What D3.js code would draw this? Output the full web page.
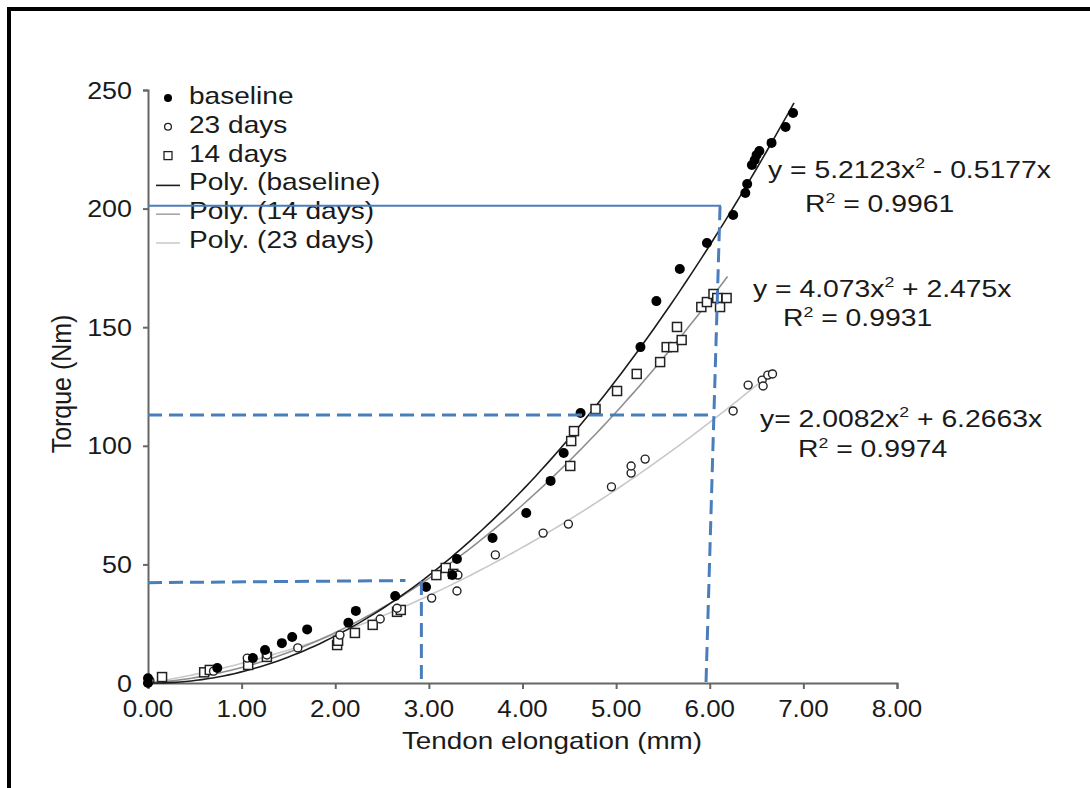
<!DOCTYPE html>
<html>
<head>
<meta charset="utf-8">
<script src="https://cdn.jsdelivr.net/npm/d3@7"></script>
<style>
  html, body { margin: 0; padding: 0; background: #fff; }
  svg { display: block; }
  text { font-family: "Liberation Sans", Arial, Helvetica, sans-serif; fill: #1a1a1a; }
</style>
</head>
<body>
<svg id="chart" width="1090" height="788"></svg>
<script>
// Torque vs. tendon elongation, three conditions with quadratic fits

// baseline (filled circles)
const baselineX = [0.00, 0.00, 0.74, 1.12, 1.25, 1.43, 1.54, 1.70, 2.14, 2.22, 2.64, 2.97, 3.25, 3.30,
  3.68, 4.04, 4.30, 4.44, 4.62, 5.26, 5.43, 5.68, 5.97, 6.25, 6.38, 6.40, 6.45, 6.48, 6.50, 6.53, 6.66, 6.81, 6.89];
const baselineY = [2.0, 0.0, 6.3, 10.5, 13.9, 16.8, 19.4, 22.6, 25.4, 30.4, 36.7, 40.5, 45.5, 52.3,
  61.1, 71.7, 85.2, 97.0, 113.8, 141.6, 161.0, 174.5, 185.5, 197.3, 206.6, 210.4, 218.4, 220.5, 222.6, 224.3, 227.7, 234.4, 240.3];

// 23 days (open circles)
const days23X = [0.02, 0.70, 1.06, 1.27, 1.60, 2.05, 2.48, 2.66, 3.03, 3.30, 3.31, 3.71, 4.22, 4.49,
  4.95, 5.16, 5.16, 5.31, 6.25, 6.41, 6.56, 6.57, 6.62, 6.67];
const days23Y = [1.0, 5.0, 10.5, 11.8, 14.8, 20.2, 27.0, 31.5, 35.8, 38.8, 45.5, 54.0, 63.2, 67.0,
  82.7, 88.5, 91.5, 94.4, 114.7, 125.6, 127.7, 125.2, 129.8, 130.3];

// 14 days (open squares)
const days14X = [0.15, 0.60, 0.66, 1.07, 1.27, 2.02, 2.03, 2.21, 2.40, 2.66, 2.70, 3.08, 3.18, 3.26,
  4.51, 4.52, 4.55, 4.78, 5.01, 5.22, 5.47, 5.54, 5.61, 5.70, 5.65, 5.91, 5.97, 6.04, 6.08, 6.11, 6.18];
const days14Y = [2.5, 4.5, 5.5, 7.6, 11.0, 16.0, 17.8, 21.1, 24.5, 30.0, 30.8, 45.5, 48.5, 46.0,
  91.5, 102.0, 106.2, 115.5, 123.1, 130.3, 135.3, 141.6, 141.6, 144.6, 150.1, 158.5, 160.6, 164.0, 162.3, 158.5, 162.3];

// Quadratic fits y = a x^2 + b x, and the x range each is drawn over
const fitBaseline = { a: 5.2123, b: -0.5177, xMax: 6.90 };
const fit14 = { a: 4.073, b: 2.475, xMax: 6.19 };
const fit23 = { a: 2.0082, b: 6.2663, xMax: 6.68 };

const xTicks = [0, 1, 2, 3, 4, 5, 6, 7, 8];
const yTicks = [0, 50, 100, 150, 200, 250];

const legendLabels = ["baseline", "23 days", "14 days", "Poly. (baseline)", "Poly. (14 days)", "Poly. (23 days)"];

// Reference guide lines (data units: [elongation, torque])
const guideSolid = [[0, 201.2], [6.12, 201.2]];
const guideDashed = [
  [[6.11, 201.0], [5.96, 0]],
  [[0, 113.0], [6.04, 113.0]],
  [[0, 42.3], [2.75, 43.2]],
  [[2.92, 43.0], [2.92, 0]]
];

const svg = d3.select("#chart");
const W = 1090, H = 788;
const SX = 1.14;   // horizontal stretch of the typeface

svg.append("rect").attr("width", W).attr("height", H).attr("fill", "#fff");
// outer frame (runs off the right and bottom edges)
svg.append("rect").attr("x", 9).attr("y", 9).attr("width", W).attr("height", H)
  .attr("fill", "none").attr("stroke", "#000").attr("stroke-width", 4);

const x = d3.scaleLinear().domain([0, 8]).range([148, 897]);
const y = d3.scaleLinear().domain([0, 250]).range([683, 90]);

function label(g, px, py, str, anchor, size, sx) {
  const t = g.append("text")
    .attr("transform", `translate(${px},${py}) scale(${sx || SX},1)`)
    .attr("text-anchor", anchor || "start")
    .attr("font-size", size || 24);
  t.text(str);
  return t;
}

// axes
const axisColor = "#666";
const xAxis = svg.append("g").attr("transform", `translate(0,${y(0)})`)
  .call(d3.axisBottom(x).tickValues(xTicks).tickSize(6).tickFormat(""));
const yAxis = svg.append("g").attr("transform", `translate(${x(0)},0)`)
  .call(d3.axisLeft(y).tickValues(yTicks).tickSize(5).tickFormat(""));
[xAxis, yAxis].forEach(g => {
  g.select(".domain").attr("stroke", axisColor).attr("stroke-width", 2);
  g.selectAll(".tick line").attr("stroke", axisColor).attr("stroke-width", 2);
});

const tickLabels = svg.append("g");
xTicks.forEach(v => label(tickLabels, x(v), 717, d3.format(".2f")(v), "middle", 24, 1.08));
yTicks.forEach(v => label(tickLabels, 132, y(v) + 8.5, d3.format("d")(v), "end", 24, 1.12));

label(svg, 552, 749, "Tendon elongation (mm)", "middle", 24, 1.16);
svg.append("text")
  .attr("transform", `translate(71,384) rotate(-90) scale(1.04,${SX})`)
  .attr("text-anchor", "middle").attr("font-size", 24)
  .text("Torque (Nm)");

// fitted curves
const plot = svg.append("g");
const curve = d3.line().x(d => x(d[0])).y(d => y(d[1]));
function fitPoints(f) {
  return d3.range(0, f.xMax + 1e-9, f.xMax / 120).map(t => [t, f.a * t * t + f.b * t]);
}
plot.append("path").datum(fitPoints(fit23)).attr("d", curve)
  .attr("fill", "none").attr("stroke", "#c8c8c8").attr("stroke-width", 1.6);
plot.append("path").datum(fitPoints(fit14)).attr("d", curve)
  .attr("fill", "none").attr("stroke", "#8e8e8e").attr("stroke-width", 1.6);
plot.append("path").datum(fitPoints(fitBaseline)).attr("d", curve)
  .attr("fill", "none").attr("stroke", "#1c1c1c").attr("stroke-width", 1.6);

// markers
const zip = (xs, ys) => xs.map((v, i) => [v, ys[i]]);
plot.selectAll(".sq").data(zip(days14X, days14Y)).join("rect")
  .attr("x", d => x(d[0]) - 4.5).attr("y", d => y(d[1]) - 4.5)
  .attr("width", 9).attr("height", 9)
  .attr("fill", "#fff").attr("stroke", "#222").attr("stroke-width", 1.5);
plot.selectAll(".oc").data(zip(days23X, days23Y)).join("circle")
  .attr("cx", d => x(d[0])).attr("cy", d => y(d[1])).attr("r", 4)
  .attr("fill", "#fff").attr("stroke", "#222").attr("stroke-width", 1.4);
plot.selectAll(".fc").data(zip(baselineX, baselineY)).join("circle")
  .attr("cx", d => x(d[0])).attr("cy", d => y(d[1])).attr("r", 5)
  .attr("fill", "#000");

// fit equations
const EQX = 1.18;
function equation(px, py, a, b, sign, pre) {
  const t = svg.append("text")
    .attr("transform", `translate(${px},${py}) scale(${EQX},1)`)
    .attr("font-size", 24);
  t.append("tspan").text(`${pre}${a}x`);
  t.append("tspan").attr("font-size", 15).attr("dy", -10).text("2");
  t.append("tspan").attr("dy", 10).text(` ${sign} ${b}x`);
}
function rSquared(px, py, r) {
  const t = svg.append("text")
    .attr("transform", `translate(${px},${py}) scale(${EQX},1)`)
    .attr("font-size", 24);
  t.append("tspan").text("R");
  t.append("tspan").attr("font-size", 15).attr("dy", -9).text("2");
  t.append("tspan").attr("dy", 9).text(` = ${r}`);
}
equation(768, 178, fitBaseline.a.toFixed(4), Math.abs(fitBaseline.b).toFixed(4), "-", "y = ");
rSquared(805, 212, "0.9961");
equation(753, 297, fit14.a.toFixed(3), fit14.b.toFixed(3), "+", "y = ");
rSquared(783, 326, "0.9931");
equation(760, 427, fit23.a.toFixed(4), fit23.b.toFixed(4), "+", "y= ");
rSquared(798, 457, "0.9974");

// legend
const leg = svg.append("g");
const legBase = 104, legStep = 28.8;
legendLabels.forEach((s, i) => label(leg, 189, legBase + i * legStep, s, "start", 24, 1.17));
leg.append("circle").attr("cx", 168).attr("cy", legBase - 6).attr("r", 4).attr("fill", "#000");
leg.append("circle").attr("cx", 168).attr("cy", legBase + legStep - 6).attr("r", 3.4)
  .attr("fill", "#fff").attr("stroke", "#222").attr("stroke-width", 1.3);
leg.append("rect").attr("x", 164).attr("y", legBase + 2 * legStep - 10).attr("width", 8).attr("height", 8)
  .attr("fill", "#fff").attr("stroke", "#222").attr("stroke-width", 1.3);
[["#1c1c1c", 3], ["#a6a6a6", 4], ["#cccccc", 5]].forEach(([c, i]) => {
  leg.append("line").attr("x1", 156).attr("x2", 180)
    .attr("y1", legBase + i * legStep - 5).attr("y2", legBase + i * legStep - 5)
    .attr("stroke", c).attr("stroke-width", 1.6);
});

// guide lines
const guides = svg.append("g");
guides.append("path").datum(guideSolid).attr("d", curve)
  .attr("fill", "none").attr("stroke", "#4a7ebb").attr("stroke-width", 2);
guideDashed.forEach(seg => {
  guides.append("path").datum(seg).attr("d", curve)
    .attr("fill", "none").attr("stroke", "#4a7ebb").attr("stroke-width", 3)
    .attr("stroke-dasharray", "14,7");
});
</script>
</body>
</html>
